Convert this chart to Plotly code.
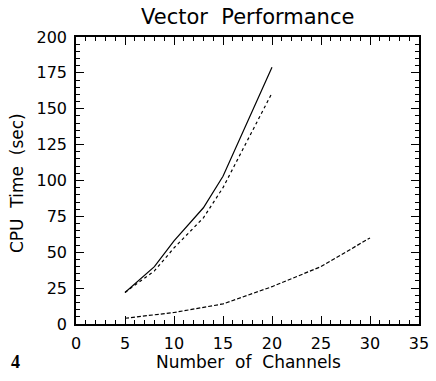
import plotly.graph_objects as go

# Data
solid_x = [5, 8, 10, 13, 15, 20]
solid_y = [22, 40, 58, 81, 103, 179]
dotted_x = [5, 8, 10, 13, 15, 20]
dotted_y = [22, 37, 53, 74, 95, 161]
dashed_x = [5, 10, 15, 20, 25, 30]
dashed_y = [4, 8, 14, 26, 40, 60]

x_ticks = [0, 5, 10, 15, 20, 25, 30, 35]
y_ticks = [0, 25, 50, 75, 100, 125, 150, 175, 200]

FONT = "DejaVu Sans"
line_w = 1.2

W, H = 436, 381
L, R, T, B = 76, 17, 37, 57

fig = go.Figure()
fig.add_trace(go.Scatter(x=solid_x, y=solid_y, mode="lines",
                         line=dict(color="black", width=line_w, dash="solid")))
fig.add_trace(go.Scatter(x=dotted_x, y=dotted_y, mode="lines",
                         line=dict(color="black", width=line_w, dash="dot")))
fig.add_trace(go.Scatter(x=dashed_x, y=dashed_y, mode="lines",
                         line=dict(color="black", width=line_w, dash="4px,2px")))

axis_common = dict(
    showgrid=False, zeroline=False, showline=True, linecolor="black", linewidth=1.5,
    mirror="ticks", ticks="inside", ticklen=8, tickwidth=1, tickcolor="black",
    tickfont=dict(family=FONT, size=16, color="black"), automargin=False,
)

def px_x(px):
    return (px - L) / (W - L - R)

def px_y(py):
    return 1 - (py - T) / (H - T - B)

fig.update_layout(
    width=W, height=H,
    margin=dict(l=L, r=R, t=T, b=B),
    paper_bgcolor="white", plot_bgcolor="white",
    showlegend=False,
    xaxis=dict(range=[0, 35], tickvals=x_ticks, ticktext=[str(v) for v in x_ticks],
               ticklabelstandoff=4,
               minor=dict(dtick=1, ticklen=4, ticks="inside", tickcolor="black", tickwidth=1),
               **axis_common),
    yaxis=dict(range=[0, 200], tickvals=y_ticks, ticktext=[str(v) for v in y_ticks],
               ticklabelstandoff=4,
               minor=dict(dtick=5, ticklen=4, ticks="inside", tickcolor="black", tickwidth=1),
               **axis_common),
    annotations=[
        dict(text="Vector  Performance", x=px_x(247), y=px_y(17), xref="paper", yref="paper",
             showarrow=False, xanchor="center", yanchor="middle",
             font=dict(family=FONT, size=21, color="black")),
        dict(text="Number  of  Channels", x=px_x(248), y=px_y(362), xref="paper", yref="paper",
             showarrow=False, xanchor="center", yanchor="middle",
             font=dict(family=FONT, size=17, color="black")),
        dict(text="CPU  Time  (sec)", x=px_x(17), y=px_y(183), xref="paper", yref="paper",
             showarrow=False, xanchor="center", yanchor="middle", textangle=-90,
             font=dict(family=FONT, size=17, color="black")),
        dict(text="<b>4</b>", x=px_x(15), y=px_y(362), xref="paper", yref="paper",
             showarrow=False, xanchor="center", yanchor="middle",
             font=dict(family="Liberation Serif", size=18, color="black")),
    ],
)

fig.write_html("out.html", config={"displayModeBar": False},
               post_script="document.body.style.margin='0';")
